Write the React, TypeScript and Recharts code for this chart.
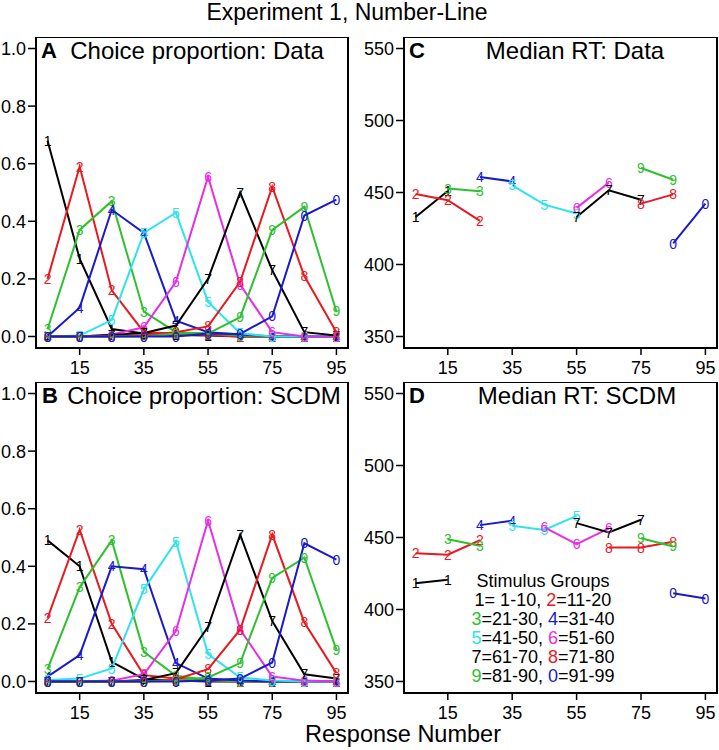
import { LineChart, Line, XAxis, YAxis, ReferenceArea } from "recharts";

// response bins (x positions) and group labels
const responseBins = [5, 15, 25, 35, 45, 55, 65, 75, 85, 95];
const groupKeys = ["g1", "g2", "g3", "g4", "g5", "g6", "g7", "g8", "g9", "g0"];
const groupDigits = ["1", "2", "3", "4", "5", "6", "7", "8", "9", "0"];
const groupColors = ["#000000", "#e8191f", "#2ec02e", "#1a1ac8", "#2ee3ec", "#e62ee6", "#000000", "#e8191f", "#2ec02e", "#1a1ac8"];
const xTicks = [15, 35, 55, 75, 95];
const propTicks = [0, 0.2, 0.4, 0.6, 0.8, 1.0];
const rtTicks = [350, 400, 450, 500, 550];

// A: choice proportion, data
const propData1 = [0.68, 0.27, 0.026, 0.01, 0.005, 0.003, 0, 0, 0, 0];
const propData2 = [0.2, 0.59, 0.16, 0.015, 0.01, 0.005, 0, 0, 0, 0];
const propData3 = [0.026, 0.37, 0.47, 0.086, 0.015, 0.01, 0.003, 0, 0, 0];
const propData4 = [0, 0.1, 0.44, 0.36, 0.055, 0.015, 0.007, 0, 0, 0];
const propData5 = [0, 0.003, 0.057, 0.36, 0.43, 0.12, 0.011, 0, 0, 0];
const propData6 = [0, 0, 0.007, 0.032, 0.19, 0.555, 0.18, 0.015, 0, 0];
const propData7 = [0, 0, 0.005, 0.012, 0.038, 0.2, 0.5, 0.23, 0.015, 0.003];
const propData8 = [0, 0, 0, 0.005, 0.015, 0.035, 0.19, 0.52, 0.21, 0.015];
const propData9 = [0, 0, 0, 0, 0.01, 0.01, 0.067, 0.37, 0.45, 0.087];
const propData0 = [0, 0, 0, 0, 0, 0.01, 0.009, 0.07, 0.42, 0.475];

// B: choice proportion, SCDM
const propModel1 = [0.49, 0.4, 0.068, 0.008, 0.003, 0, 0, 0, 0, 0];
const propModel2 = [0.22, 0.527, 0.2, 0.022, 0.01, 0.003, 0, 0, 0, 0];
const propModel3 = [0.043, 0.327, 0.49, 0.103, 0.02, 0.005, 0, 0, 0, 0];
const propModel4 = [0.017, 0.092, 0.4, 0.39, 0.064, 0.01, 0.003, 0, 0, 0];
const propModel5 = [0.005, 0.01, 0.045, 0.32, 0.486, 0.095, 0.014, 0.003, 0, 0];
const propModel6 = [0, 0, 0.003, 0.025, 0.176, 0.559, 0.18, 0.017, 0.003, 0];
const propModel7 = [0, 0, 0, 0.005, 0.029, 0.19, 0.51, 0.21, 0.025, 0.01];
const propModel8 = [0, 0, 0, 0, 0.008, 0.043, 0.18, 0.51, 0.205, 0.029];
const propModel9 = [0, 0, 0, 0, 0.003, 0.014, 0.064, 0.36, 0.43, 0.11];
const propModel0 = [0, 0, 0, 0, 0, 0.003, 0.01, 0.066, 0.48, 0.423];

// C: median RT, data (null = not plotted)
const rtData1 = [433, 451, null, null, null, null, null, null, null, null];
const rtData2 = [449, 444.6, 430.3, null, null, null, null, null, null, null];
const rtData3 = [null, 452.7, 450.8, null, null, null, null, null, null, null];
const rtData4 = [null, null, 460.7, 457.7, null, null, null, null, null, null];
const rtData5 = [null, null, null, 455, 441.6, 435.4, null, null, null, null];
const rtData6 = [null, null, null, null, null, 439.3, 456.8, null, null, null];
const rtData7 = [null, null, null, null, null, 433, 451.5, 445, null, null];
const rtData8 = [null, null, null, null, null, null, null, 442.3, 448.7, null];
const rtData9 = [null, null, null, null, null, null, null, 467, 458.9, null];
const rtData0 = [null, null, null, null, null, null, null, null, 414.6, 442.3];

// D: median RT, SCDM
const rtModel1 = [418.3, 420.6, null, null, null, null, null, null, null, null];
const rtModel2 = [439.1, 438, 448.1, null, null, null, null, null, null, null];
const rtModel3 = [null, 448.8, 444.2, null, null, null, null, null, null, null];
const rtModel4 = [null, null, 458.6, 461.6, null, null, null, null, null, null];
const rtModel5 = [null, null, null, 458.1, 455.3, 465, null, null, null, null];
const rtModel6 = [null, null, null, null, 457, 445.4, 456.3, null, null, null];
const rtModel7 = [null, null, null, null, null, 460, 453.5, 462.3, null, null];
const rtModel8 = [null, null, null, null, null, null, 443, 443, 447, null];
const rtModel9 = [null, null, null, null, null, null, null, 449.5, 443.8, null];
const rtModel0 = [null, null, null, null, null, null, null, null, 411.3, 407.6];

const FONT = "'Liberation Sans', Arial, Helvetica, sans-serif";
const X_DOMAIN: [number, number] = [1.4, 98.6];

function buildRows(series: (number | null)[][]) {
  return responseBins.map((x, i) => {
    const row: Record<string, number | null> = { x };
    groupKeys.forEach((k, j) => {
      row[k] = series[j][i];
    });
    return row;
  });
}

const rowsA = buildRows([propData1, propData2, propData3, propData4, propData5, propData6, propData7, propData8, propData9, propData0]);
const rowsB = buildRows([propModel1, propModel2, propModel3, propModel4, propModel5, propModel6, propModel7, propModel8, propModel9, propModel0]);
const rowsC = buildRows([rtData1, rtData2, rtData3, rtData4, rtData5, rtData6, rtData7, rtData8, rtData9, rtData0]);
const rowsD = buildRows([rtModel1, rtModel2, rtModel3, rtModel4, rtModel5, rtModel6, rtModel7, rtModel8, rtModel9, rtModel0]);

// digit marker drawn at each point, like R's pch = "1".."0"
function digitDot(digit: string, color: string, key: string) {
  return (props: any) => {
    const { cx, cy, index, value } = props;
    if (cx == null || cy == null || value == null) return <g key={`${key}-${index}`} />;
    return (
      <text
        key={`${key}-${index}`}
        x={cx}
        y={cy}
        dy="0.36em"
        textAnchor="middle"
        fontSize={14}
        fontFamily={FONT}
        fill={color}
      >
        {digit}
      </text>
    );
  };
}

interface PanelProps {
  left: number;
  top: number;
  width: number;
  rows: Record<string, number | null>[];
  yDomain: [number, number];
  yTicks: number[];
  yWidth: number;
  fmt: (v: number) => string;
}

function Panel({ left, top, width, rows, yDomain, yTicks, yWidth, fmt }: PanelProps) {
  return (
    <div style={{ position: "absolute", left, top }}>
      <LineChart width={width} height={345} data={rows} margin={{ top: 0, right: 2, left: 0, bottom: 0 }}>
        <XAxis
          type="number"
          dataKey="x"
          domain={X_DOMAIN}
          ticks={xTicks}
          allowDataOverflow
          axisLine={false}
          tickLine={{ stroke: "#000", strokeWidth: 1.5 }}
          tickSize={7}
          tickMargin={6}
          height={34}
          tick={{ fontSize: 18, fill: "#000", fontFamily: FONT }}
        />
        <YAxis
          type="number"
          domain={yDomain}
          ticks={yTicks}
          allowDataOverflow
          axisLine={false}
          tickLine={{ stroke: "#000", strokeWidth: 1.5 }}
          tickSize={8}
          tickMargin={2}
          width={yWidth}
          tickFormatter={fmt}
          tick={{ fontSize: 18, fill: "#000", fontFamily: FONT }}
        />
        <ReferenceArea
          x1={X_DOMAIN[0]}
          x2={X_DOMAIN[1]}
          y1={yDomain[0]}
          y2={yDomain[1]}
          fill="none"
          stroke="#000"
          strokeWidth={2}
        />
        {groupKeys.map((k, j) => (
          <Line
            key={k}
            dataKey={k}
            stroke={groupColors[j]}
            strokeWidth={2}
            connectNulls={false}
            isAnimationActive={false}
            dot={digitDot(groupDigits[j], groupColors[j], k)}
            activeDot={false}
          />
        ))}
      </LineChart>
    </div>
  );
}

const legendRows: [string, string, string, string][] = [
  ["1", "= 1-10, ", "2", "=11-20"],
  ["3", "=21-30, ", "4", "=31-40"],
  ["5", "=41-50, ", "6", "=51-60"],
  ["7", "=61-70, ", "8", "=71-80"],
  ["9", "=81-90, ", "0", "=91-99"],
];

function colorOf(digit: string) {
  return groupColors[groupDigits.indexOf(digit)];
}

export default function App() {
  const propFmt = (v: number) => v.toFixed(1);
  const rtFmt = (v: number) => String(v);
  return (
    <div style={{ position: "absolute", left: 0, top: 0, width: 719, height: 750, background: "#fff", fontFamily: FONT }}>
      <Panel left={0} top={37} width={350} rows={rowsA} yDomain={[-0.04, 1.04]} yTicks={propTicks} yWidth={36} fmt={propFmt} />
      <Panel left={0} top={382} width={350} rows={rowsB} yDomain={[-0.04, 1.04]} yTicks={propTicks} yWidth={36} fmt={propFmt} />
      <Panel left={360} top={37} width={359} rows={rowsC} yDomain={[342, 558]} yTicks={rtTicks} yWidth={44} fmt={rtFmt} />
      <Panel left={360} top={382} width={359} rows={rowsD} yDomain={[342, 558]} yTicks={rtTicks} yWidth={44} fmt={rtFmt} />
      <svg width={719} height={750} style={{ position: "absolute", left: 0, top: 0, pointerEvents: "none" }} fontFamily={FONT}>
        <text x={347} y={20} textAnchor="middle" fontSize={23}>Experiment 1, Number-Line</text>
        <text x={403} y={742} textAnchor="middle" fontSize={23.5}>Response Number</text>

        <text x={41} y={58} fontSize={22} fontWeight="bold">A</text>
        <text x={197} y={59} textAnchor="middle" fontSize={24}>Choice proportion: Data</text>
        <text x={42} y={403} fontSize={22} fontWeight="bold">B</text>
        <text x={204} y={404} textAnchor="middle" fontSize={24}>Choice proportion: SCDM</text>
        <text x={409} y={58} fontSize={22} fontWeight="bold">C</text>
        <text x={575} y={59} textAnchor="middle" fontSize={24}>Median RT: Data</text>
        <text x={409} y={403} fontSize={22} fontWeight="bold">D</text>
        <text x={577} y={404} textAnchor="middle" fontSize={24}>Median RT: SCDM</text>

        <text x={543} y={587} textAnchor="middle" fontSize={18}>Stimulus Groups</text>
        {legendRows.map((r, i) => (
          <text key={i} x={543} y={606 + i * 19} textAnchor="middle" fontSize={18}>
            <tspan fill={colorOf(r[0])}>{r[0]}</tspan>
            <tspan fill="#000">{r[1]}</tspan>
            <tspan fill={colorOf(r[2])}>{r[2]}</tspan>
            <tspan fill="#000">{r[3]}</tspan>
          </text>
        ))}
      </svg>
    </div>
  );
}
